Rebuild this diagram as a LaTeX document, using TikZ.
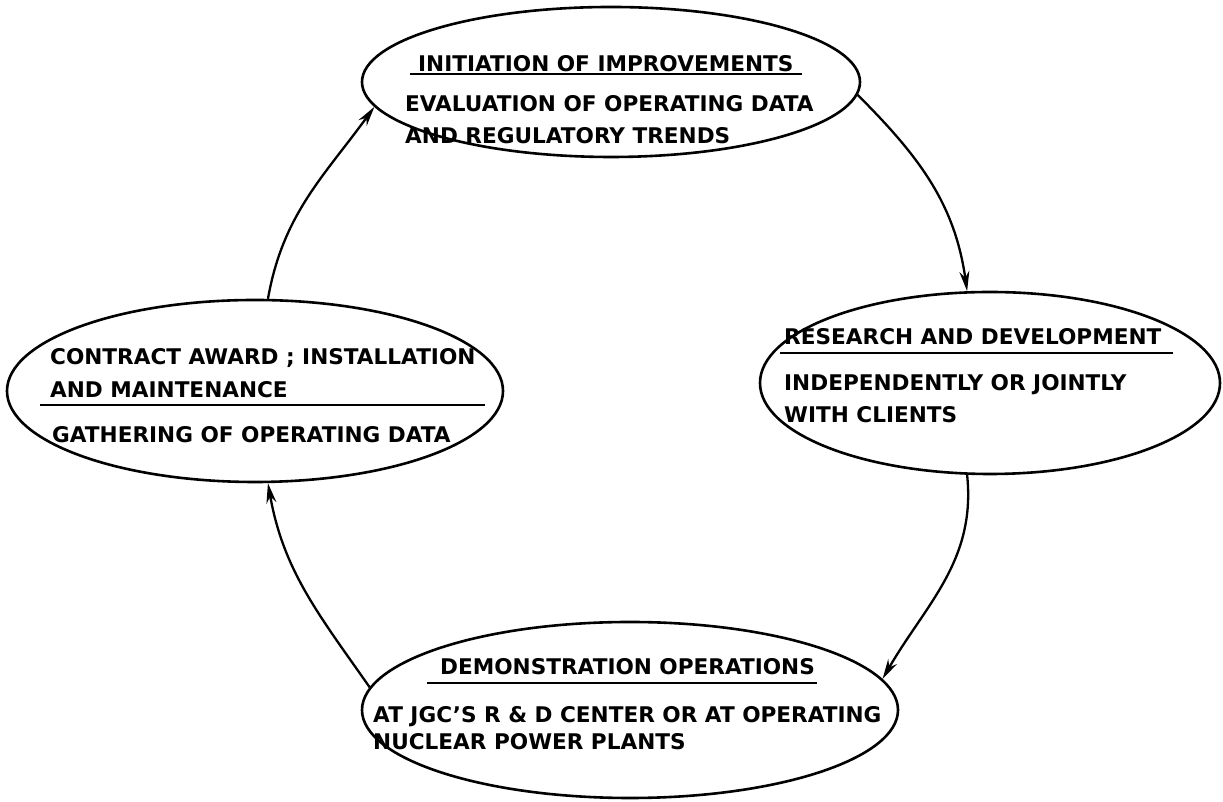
\documentclass[tikz,border=0pt]{standalone}
\usepackage{fontspec}
\setmainfont{DejaVu Sans}
\usetikzlibrary{shapes.geometric,arrows.meta}
\begin{document}
\begin{tikzpicture}[x=1pt,y=1pt,
  oval/.style={draw, ellipse, line width=2.6pt, inner sep=0pt},
  lbl/.style={anchor=west, inner sep=0pt, font=\fontsize{21.6}{26}\selectfont\bfseries, text height=15.7pt, text depth=0pt},
  uline/.style={line width=2.2pt},
  flow/.style={line width=2.3pt, -{Stealth[length=20pt,width=10pt]}}]
\useasboundingbox (0,0) rectangle (1223,802);
% ellipses
\node[oval, minimum width=498pt, minimum height=150pt] (T) at (611,720) {};
\node[oval, minimum width=460pt, minimum height=182pt] (R) at (990,419) {};
\node[oval, minimum width=536pt, minimum height=176pt] (B) at (630,92) {};
\node[oval, minimum width=496pt, minimum height=182pt] (L) at (255,411) {};
% top texts
\node[lbl] (t1) at (418,738) {INITIATION OF IMPROVEMENTS};
\draw[uline] (410,728) -- (802,728);
\node[lbl] (t2) at (405,698) {EVALUATION OF OPERATING DATA};
\node[lbl] (t3) at (405,666) {AND REGULATORY TRENDS};
% right texts
\node[lbl] (r1) at (784,465) {RESEARCH AND DEVELOPMENT};
\draw[uline] (780,449) -- (1173,449);
\node[lbl] (r2) at (784,419) {INDEPENDENTLY OR JOINTLY};
\node[lbl] (r3) at (784,387) {WITH CLIENTS};
% left texts
\node[lbl] (l1) at (50,445) {CONTRACT AWARD ; INSTALLATION};
\node[lbl] (l2) at (50,412) {AND MAINTENANCE};
\draw[uline] (40,397) -- (485,397);
\node[lbl] (l3) at (52,367) {GATHERING OF OPERATING DATA};
% bottom texts
\node[lbl] (b1) at (440,135) {DEMONSTRATION OPERATIONS};
\draw[uline] (427,119) -- (817,119);
\node[lbl] (b2) at (373,87) {AT JGC’S R \& D CENTER OR AT OPERATING};
\node[lbl] (b3) at (373,60) {NUCLEAR POWER PLANTS};
% connectors
\draw[flow] (L.82) to[out=80,in=234] (T.186);
\draw[flow] (T.-3) to[out=-45,in=98] (R.104);
\draw[flow] (R.256) to[out=-84,in=60] (B.7);
\draw[flow] (B.175) to[out=125,in=-80] (L.278);
\end{tikzpicture}
\end{document}
